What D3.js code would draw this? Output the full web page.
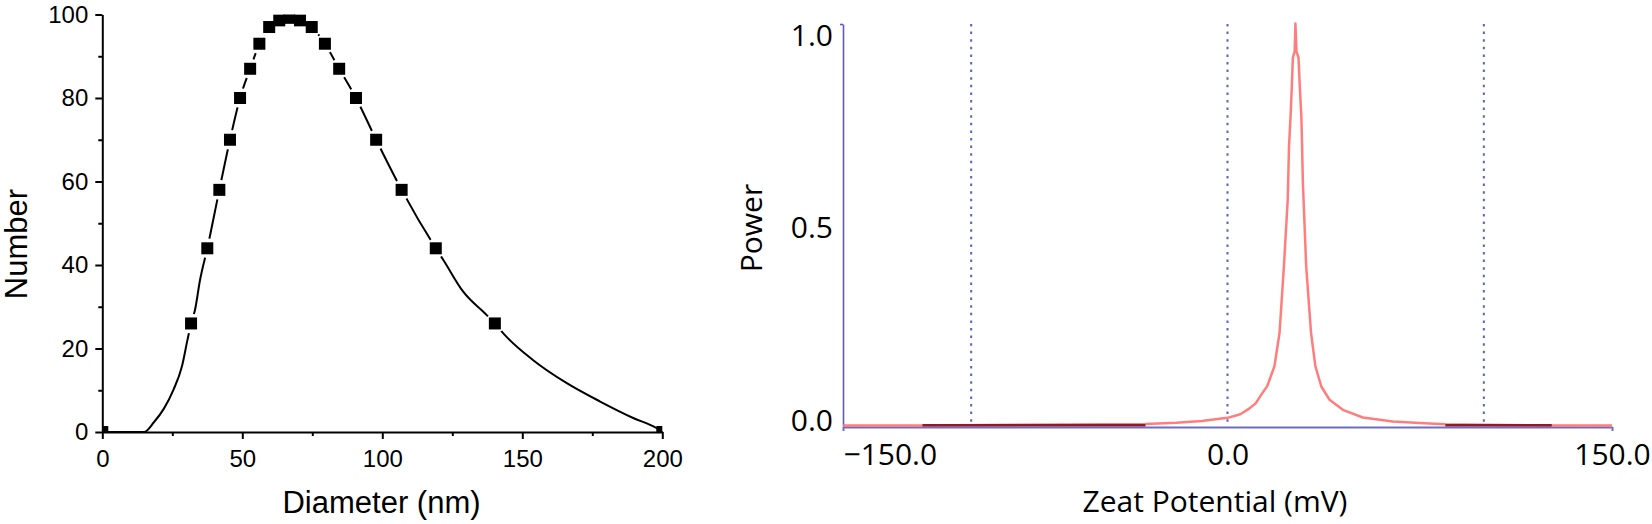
<!DOCTYPE html>
<html>
<head>
<meta charset="utf-8">
<script src="https://cdn.jsdelivr.net/npm/d3@7/dist/d3.min.js"></script>
<style>
  html, body { margin: 0; padding: 0; background: #fff; }
  svg { display: block; }
  .left text { font-family: "Liberation Sans", Arial, sans-serif; fill: #000; }
  .left .tick text { font-size: 24px; }
  .left .title { font-size: 31px; }
  .right text { font-family: "Open Sans", "Noto Sans", sans-serif; fill: #000; }
  .right .tick text { font-size: 30px; }
  .right .title { font-size: 30px; }
</style>
</head>
<body>
<div id="chart"></div>
<script>
// left panel: size distribution (symbols + fitted line)
var diameter = [0, 31.7, 37.5, 41.8, 45.6, 49.2, 52.8, 56.1, 59.6, 63.2, 66.8, 70.6, 74.8, 79.5, 84.6, 90.6, 97.8, 106.9, 119.1, 140.2, 200];
var number   = [0, 26, 44, 58, 70, 80, 87, 93, 97, 98.6, 99.2, 98.6, 97, 93, 87, 80, 70, 58, 44, 26, 0];

var fitDiameter = [0, 14.9, 18.5, 22, 25.4, 28.4, 30.4, 31.7, 33.1, 34.9, 37.5, 41.8, 45.6, 49.2, 52.8, 56.1, 59.6, 63.2, 66.8, 70.6, 74.8, 79.5, 84.6, 90.6, 97.8, 106.9, 119.1, 121.8, 128.9, 137.3, 140.2, 143.8, 153.9, 165.9, 177.8, 189.8, 198, 200];
var fitNumber   = [0, 0, 2.4, 5.6, 10.1, 15.6, 22.0, 26, 29.2, 36.4, 44, 58, 70, 80, 87, 93, 97, 98.6, 99.2, 98.6, 97, 93, 87, 80, 70, 58, 44, 41.2, 33.6, 28, 26, 23.2, 17.2, 11.7, 7.3, 3.3, 0.9, 0];

var diameterTicks = [0, 50, 100, 150, 200],
    diameterMinor = [25, 75, 125, 175],
    numberTicks = [0, 20, 40, 60, 80, 100],
    numberMinor = [10, 30, 50, 70, 90];

// right panel: zeta potential spectrum
var zeta  = [-150, -119, -32, -20, -10, 0, 5, 8, 11, 13, 15.5, 18.3, 20.3, 22, 23.5, 24.0, 24.6, 25.1, 25.5, 26.2, 26.5, 26.9, 27.7, 28.2, 28.8, 29.1, 29.4, 30.7, 32.6, 34.3, 36.6, 39.8, 45, 52.8, 64.5, 75, 85, 126.5, 150];
var power = [0, 0, 0.004, 0.007, 0.011, 0.019, 0.028, 0.04, 0.055, 0.075, 0.098, 0.147, 0.23, 0.396, 0.562, 0.695, 0.769, 0.844, 0.915, 0.93, 1.0, 0.93, 0.915, 0.844, 0.769, 0.695, 0.605, 0.396, 0.23, 0.147, 0.097, 0.064, 0.039, 0.02, 0.01, 0.006, 0.003, 0, 0];
var zeroRanges = [[-119, -32], [85, 126.5]];   // darker baseline stretches
var zetaMarkers = [-100, 0, 100];
var zetaTicks = [-150, 0, 150],
    powerTicks = [0, 0.5, 1];

var width = 1652, height = 524;

var svg = d3.select("#chart").append("svg")
    .attr("width", width)
    .attr("height", height)
    .attr("viewBox", "0 0 " + width + " " + height);

var defs = svg.append("defs");

// ---------- left ----------
var xL = d3.scaleLinear().domain([0, 200]).range([102.3, 662.3]),
    yL = d3.scaleLinear().domain([0, 100]).range([432, 14.5]);

var left = svg.append("g").attr("class", "left");

defs.append("clipPath").attr("id", "plotClip")
  .append("rect")
    .attr("x", xL(0)).attr("y", yL(100))
    .attr("width", xL(200) - xL(0)).attr("height", yL(0) - yL(100));

// gaps in the fitted line around each symbol
var mask = defs.append("mask").attr("id", "gapMask")
    .attr("maskUnits", "userSpaceOnUse")
    .attr("x", 0).attr("y", 0).attr("width", width).attr("height", height);
mask.append("rect").attr("width", width).attr("height", height).attr("fill", "#fff");
mask.selectAll("circle")
    .data(diameter.filter(function(d, i) { return number[i] > 0; }))
  .enter().append("circle")
    .attr("cx", function(d) { return xL(d); })
    .attr("cy", function(d) { return yL(number[diameter.indexOf(d)]); })
    .attr("r", 10)
    .attr("fill", "#000");

var fitLine = d3.line()
    .curve(d3.curveMonotoneX)
    .x(function(d) { return xL(d); })
    .y(function(d, i) { return yL(fitNumber[i]); });

left.append("path")
    .attr("d", fitLine(fitDiameter))
    .attr("fill", "none")
    .attr("stroke", "#000")
    .attr("stroke-width", 2)
    .attr("mask", "url(#gapMask)");

left.append("g").attr("clip-path", "url(#plotClip)")
  .selectAll("rect")
    .data(diameter)
  .enter().append("rect")
    .attr("x", function(d) { return xL(d) - 6; })
    .attr("y", function(d, i) { return yL(number[i]) - 6; })
    .attr("width", 12)
    .attr("height", 12)
    .attr("fill", "#000");

function styleAxis(g, color, w) {
  g.attr("font-size", null).attr("font-family", null);
  g.select(".domain").attr("stroke", color).attr("stroke-width", w);
  g.selectAll(".tick line").attr("stroke", color).attr("stroke-width", w);
}

var gx = left.append("g")
    .attr("transform", "translate(0," + yL(0) + ")")
    .call(d3.axisBottom(xL).tickValues(diameterTicks).tickSize(7).tickSizeOuter(0).tickPadding(11));
styleAxis(gx, "#000", 2);

var gxm = left.append("g")
    .attr("transform", "translate(0," + yL(0) + ")")
    .call(d3.axisBottom(xL).tickValues(diameterMinor).tickSize(4).tickFormat(""));
gxm.select(".domain").remove();
styleAxis(gxm, "#000", 2);

var gy = left.append("g")
    .attr("transform", "translate(" + xL(0) + ",0)")
    .call(d3.axisLeft(yL).tickValues(numberTicks).tickSize(7).tickSizeOuter(0).tickPadding(7));
styleAxis(gy, "#000", 2);

var gym = left.append("g")
    .attr("transform", "translate(" + xL(0) + ",0)")
    .call(d3.axisLeft(yL).tickValues(numberMinor).tickSize(4).tickFormat(""));
gym.select(".domain").remove();
styleAxis(gym, "#000", 2);

left.append("text")
    .attr("class", "title")
    .attr("x", 381.5).attr("y", 513)
    .attr("text-anchor", "middle")
    .text("Diameter (nm)");

left.append("text")
    .attr("class", "title")
    .attr("transform", "translate(27,244)rotate(-90)")
    .attr("text-anchor", "middle")
    .text("Number");

// ---------- right ----------
var xR = d3.scaleLinear().domain([-150, 150]).range([843, 1612]),
    yR = d3.scaleLinear().domain([0, 1]).range([426, 24]);

var right = svg.append("g").attr("class", "right");

right.selectAll(".marker")
    .data(zetaMarkers)
  .enter().append("line")
    .attr("class", "marker")
    .attr("x1", function(d) { return xR(d); })
    .attr("x2", function(d) { return xR(d); })
    .attr("y1", yR(1))
    .attr("y2", yR(0))
    .attr("stroke", "#5f5fc0")
    .attr("stroke-width", 2)
    .attr("stroke-dasharray", "2.5,5.1");

var gxr = right.append("g")
    .attr("transform", "translate(0," + (yR(0) + 1) + ")")
    .call(d3.axisBottom(xR).tickValues(zetaTicks).tickSize(0).tickFormat(d3.format(".1f")));
styleAxis(gxr, "#6c6cc8", 2);
gxr.selectAll(".tick text")
    .attr("dy", null)
    .attr("y", 37.5)
    .attr("text-anchor", function(d) { return d === -150 ? "start" : "middle"; });

var gxr2 = right.append("g")
    .attr("transform", "translate(0," + (yR(0) + 1) + ")")
    .call(d3.axisBottom(xR).tickValues([-150, 150]).tickSize(4).tickFormat(""));
gxr2.select(".domain").remove();
styleAxis(gxr2, "#6c6cc8", 2);

var gyr = right.append("g")
    .attr("transform", "translate(" + xR(-150) + ",0)")
    .call(d3.axisLeft(yR).tickValues(powerTicks).tickSize(0).tickPadding(10).tickFormat(d3.format(".1f")));
styleAxis(gyr, "#5c5cb8", 1.6);
gyr.selectAll(".tick text")
    .attr("dy", "0.35em")
    .attr("y", function(d) { return -6 + 16.5 * d; });

var gyr2 = right.append("g")
    .attr("transform", "translate(" + xR(-150) + ",0)")
    .call(d3.axisLeft(yR).tickValues([1]).tickSize(3).tickFormat(""));
gyr2.select(".domain").remove();
styleAxis(gyr2, "#5c5cb8", 1.6);

var powerLine = d3.line()
    .x(function(d) { return xR(d); })
    .y(function(d, i) { return yR(power[i]) - 0.5; });

right.append("path")
    .attr("d", powerLine(zeta))
    .attr("fill", "none")
    .attr("stroke", "#ff6f6f")
    .attr("stroke-opacity", 0.9)
    .attr("stroke-width", 2.5)
    .attr("stroke-linejoin", "round");

right.selectAll(".zero")
    .data(zeroRanges)
  .enter().append("line")
    .attr("class", "zero")
    .attr("x1", function(d) { return xR(d[0]); })
    .attr("x2", function(d) { return xR(d[1]); })
    .attr("y1", yR(0) - 0.8)
    .attr("y2", yR(0) - 0.8)
    .attr("stroke", "#8a1c2e")
    .attr("stroke-width", 2.6);

right.append("text")
    .attr("class", "title")
    .attr("x", 1215).attr("y", 512)
    .attr("text-anchor", "middle")
    .text("Zeat Potential (mV)");

right.append("text")
    .attr("class", "title")
    .attr("transform", "translate(762,228)rotate(-90)")
    .attr("text-anchor", "middle")
    .text("Power");
</script>
</body>
</html>
